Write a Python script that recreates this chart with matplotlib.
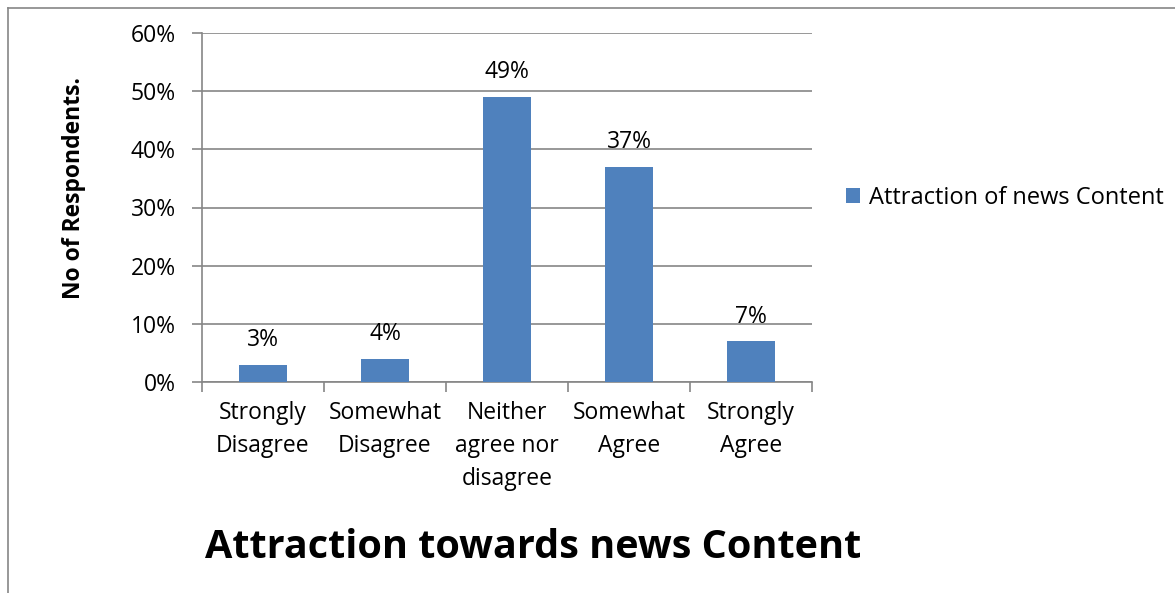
import matplotlib
matplotlib.use('Agg')
import matplotlib.pyplot as plt
from matplotlib.lines import Line2D

categories = ['Strongly\nDisagree', 'Somewhat\nDisagree', 'Neither\nagree nor\ndisagree',
              'Somewhat\nAgree', 'Strongly\nAgree']
values = [3, 4, 49, 37, 7]
series_name = 'Attraction of news Content'
yticks = [0, 10, 20, 30, 40, 50, 60]

BLUE = '#4F81BD'
GRAY = '#868686'
FONT = 'Open Sans'
FS = 16.5

plt.rcParams['font.family'] = [FONT, 'DejaVu Sans']

W, H = 1175, 593
fig = plt.figure(figsize=(W / 100, H / 100), dpi=100)
ax = fig.add_axes([202 / W, 1 - 382 / H, 610 / W, 349 / H])

x = list(range(len(categories)))
ax.bar(x, values, width=0.4, color=BLUE, label=series_name, zorder=3)
for xi, v in zip(x, values):
    ax.annotate(f'{v}%', (xi, v), xytext=(0, 9), textcoords='offset points',
                ha='center', va='bottom', fontsize=FS, color='black')

ax.set_xlim(-0.5, len(categories) - 0.5)
ax.set_ylim(0, 60)
ax.set_yticks(yticks)
ax.set_yticklabels([f'{t}%' for t in yticks], fontsize=FS)
ax.yaxis.grid(True, color=GRAY, linewidth=1.2, zorder=0)
ax.set_axisbelow(True)

# category labels sit between boundary ticks
ax.set_xticks([i + 0.5 for i in range(-1, len(categories))])
ax.set_xticklabels([])
ax.set_xticks(x, minor=True)
ax.set_xticklabels(categories, minor=True, fontsize=FS, linespacing=1.5)
ax.tick_params(axis='x', which='major', length=7, color=GRAY, width=1.2)
ax.tick_params(axis='x', which='minor', length=0, pad=14)
ax.tick_params(axis='y', length=7, color=GRAY, width=1.2, pad=12)

for s in ['top', 'right']:
    ax.spines[s].set_visible(False)
for s in ['left', 'bottom']:
    ax.spines[s].set_color(GRAY)
    ax.spines[s].set_linewidth(1.2)

ax.set_ylabel('No of Respondents.', fontsize=16.5, fontweight='bold')
ax.yaxis.set_label_coords((86 - 202) / 610, (382 - 188) / 349)

leg = ax.legend(loc='center left', bbox_to_anchor=(1.04, 0.527), frameon=False,
                fontsize=17, handlelength=0.6, handleheight=0.6, handletextpad=0.4,
                borderaxespad=0)

fig.text(533 / W, 1 - 547 / H, 'Attraction towards news Content', ha='center', va='center',
         fontsize=28.5, fontweight='bold')

# outer chart frame (left and top edges visible)
fig.add_artist(Line2D([8 / W, 8 / W], [0, 1 - 8 / H], color=GRAY, linewidth=1.2))
fig.add_artist(Line2D([8 / W, 1], [1 - 8 / H, 1 - 8 / H], color=GRAY, linewidth=1.2))

fig.savefig('out.png', dpi=100, facecolor='white')
